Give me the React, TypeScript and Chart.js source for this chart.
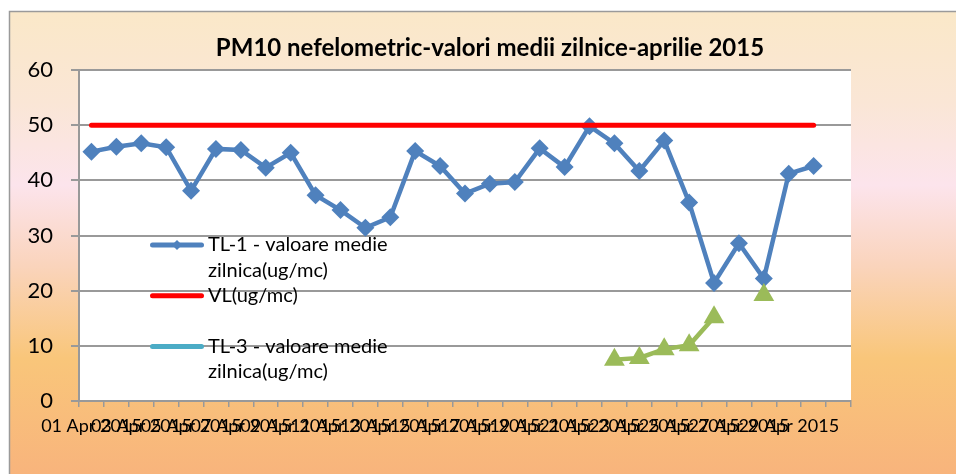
import React, { useEffect, useRef } from 'react';
import { Chart, registerables } from 'chart.js';

Chart.register(...registerables);

const TITLE = 'PM10 nefelometric-valori medii zilnice-aprilie 2015';

const CATEGORIES = [
  '01 Apr 2015', '02 Apr 2015', '03 Apr 2015', '04 Apr 2015', '05 Apr 2015',
  '06 Apr 2015', '07 Apr 2015', '08 Apr 2015', '09 Apr 2015', '10 Apr 2015',
  '11 Apr 2015', '12 Apr 2015', '13 Apr 2015', '14 Apr 2015', '15 Apr 2015',
  '16 Apr 2015', '17 Apr 2015', '18 Apr 2015', '19 Apr 2015', '20 Apr 2015',
  '21 Apr 2015', '22 Apr 2015', '23 Apr 2015', '24 Apr 2015', '25 Apr 2015',
  '26 Apr 2015', '27 Apr 2015', '28 Apr 2015', '29 Apr 2015', '30 Apr 2015',
  '',
];

const TL1_VALUES = [
  45.2, 46.1, 46.7, 46.0, 38.1, 45.7, 45.5, 42.3, 45.0, 37.3,
  34.6, 31.4, 33.3, 45.3, 42.6, 37.6, 39.4, 39.7, 45.8, 42.4,
  49.8, 46.7, 41.7, 47.2, 36.0, 21.4, 28.6, 22.2, 41.2, 42.6,
];

const VL_VALUES = [
  50, 50, 50, 50, 50, 50, 50, 50, 50, 50,
  50, 50, 50, 50, 50, 50, 50, 50, 50, 50,
  50, 50, 50, 50, 50, 50, 50, 50, 50, 50,
];

const TL3_VALUES: (number | null)[] = [
  null, null, null, null, null, null, null, null, null, null,
  null, null, null, null, null, null, null, null, null, null,
  null, null, null, null, null, null, null, null, null, null,
];

const TL2_VALUES: (number | null)[] = [
  null, null, null, null, null, null, null, null, null, null,
  null, null, null, null, null, null, null, null, null, null,
  null, 7.5, 7.8, 9.4, 10.1, 15.2, null, 19.2, null, null,
];

const Y_TICKS = { min: 0, max: 60, step: 10 };

const FONT = 'Lato';

const bgPlugin = {
  id: 'bgPlugin',
  beforeDraw(chart: any) {
    const { ctx, width, height, chartArea } = chart;
    ctx.save();
    ctx.fillStyle = '#ffffff';
    ctx.fillRect(0, 0, width, height);
    const g = ctx.createLinearGradient(0, 11, 0, height);
    g.addColorStop(0, '#FAE8C8');
    g.addColorStop(0.2, '#FAE6D6');
    g.addColorStop(0.376, '#FCE4EC');
    g.addColorStop(0.55, '#FAD4BC');
    g.addColorStop(0.75, '#F9C67A');
    g.addColorStop(1, '#F8B47C');
    ctx.fillStyle = g;
    ctx.fillRect(9, 11, width, height);
    ctx.strokeStyle = '#9A9A9A';
    ctx.lineWidth = 1.5;
    ctx.strokeRect(9.5, 11.5, width + 10, height + 10);
    ctx.fillStyle = '#ffffff';
    ctx.fillRect(chartArea.left, chartArea.top, chartArea.right - chartArea.left, chartArea.bottom - chartArea.top);
    ctx.restore();
  },
};

function wrapText(ctx: CanvasRenderingContext2D, text: string, maxWidth: number): string[] {
  const words = text.split(' ');
  const lines: string[] = [];
  let cur = '';
  for (const w of words) {
    const test = cur ? cur + ' ' + w : w;
    if (cur && ctx.measureText(test).width > maxWidth) {
      lines.push(cur);
      cur = w;
    } else {
      cur = test;
    }
  }
  if (cur) lines.push(cur);
  return lines;
}

const insideLegend = {
  id: 'insideLegend',
  afterDraw(chart: any) {
    const { ctx, chartArea } = chart;
    ctx.save();
    ctx.font = `20px ${FONT}`;
    ctx.fillStyle = '#000';
    ctx.textBaseline = 'middle';
    ctx.textAlign = 'left';
    const x0 = chartArea.left + 71;
    const x1 = chartArea.left + 125;
    const tx = chartArea.left + 129;
    const y0 = chartArea.top + 175;
    const lh = 25.4;
    let slot = 0;
    chart.data.datasets.forEach((ds: any) => {
      if (ds.hideInLegend) return;
      const y = y0 + slot * lh;
      ctx.strokeStyle = ds.borderColor;
      ctx.lineWidth = 5;
      ctx.lineCap = 'round';
      ctx.beginPath();
      ctx.moveTo(x0 + 2.5, y);
      ctx.lineTo(x1 - 2.5, y);
      ctx.stroke();
      if (ds.pointRadius > 0) {
        const cx = (x0 + x1) / 2;
        const r = 5;
        ctx.fillStyle = ds.borderColor;
        ctx.beginPath();
        ctx.moveTo(cx, y - r);
        ctx.lineTo(cx + r, y);
        ctx.lineTo(cx, y + r);
        ctx.lineTo(cx - r, y);
        ctx.closePath();
        ctx.fill();
      }
      ctx.fillStyle = '#000';
      const lines = wrapText(ctx, ds.label, 185);
      lines.forEach((t, k) => ctx.fillText(t, tx, y + k * lh));
      slot += 2;
    });
    ctx.restore();
  },
};

export default function App() {
  const ref = useRef<HTMLCanvasElement | null>(null);

  useEffect(() => {
    if (!ref.current) return;
    const chart = new Chart(ref.current, {
      type: 'line',
      data: {
        labels: CATEGORIES,
        datasets: [
          {
            label: 'TL-1 - valoare medie zilnica(ug/mc)',
            data: TL1_VALUES,
            borderColor: '#4F81BD',
            backgroundColor: '#4F81BD',
            borderWidth: 4.5,
            pointStyle: 'rectRot',
            pointRadius: 9,
            pointBorderWidth: 0,
            pointBackgroundColor: '#4F81BD',
            tension: 0,
            order: 3,
          } as any,
          {
            label: 'VL(ug/mc)',
            data: VL_VALUES,
            borderColor: '#FF0000',
            backgroundColor: '#FF0000',
            borderWidth: 5,
            borderCapStyle: 'round',
            pointRadius: 0,
            tension: 0,
            order: 2,
          },
          {
            label: 'TL-3 - valoare medie zilnica(ug/mc)',
            data: TL3_VALUES,
            borderColor: '#4BACC6',
            backgroundColor: '#4BACC6',
            borderWidth: 5,
            pointRadius: 0,
            order: 1,
          },
          {
            label: 'TL-2 - valoare medie zilnica(ug/mc)',
            data: TL2_VALUES,
            borderColor: '#9BBB59',
            backgroundColor: '#9BBB59',
            borderWidth: 4.5,
            pointStyle: 'triangle',
            pointRadius: 12,
            pointBorderWidth: 0,
            pointBackgroundColor: '#9BBB59',
            spanGaps: false,
            tension: 0,
            order: 0,
            hideInLegend: true,
          } as any,
        ],
      },
      options: {
        responsive: false,
        animation: false,
        events: [],
        layout: { padding: { left: 24, right: 0, top: 0, bottom: 0 } },
        plugins: {
          legend: { display: false },
          tooltip: { enabled: false },
          title: {
            display: true,
            text: TITLE,
            color: '#000',
            font: { family: FONT, size: 24, weight: 'bold', lineHeight: 1.2 },
            padding: { top: 33.6, bottom: 7.6 },
          },
        },
        scales: {
          x: {
            type: 'category',
            offset: true,
            grid: {
              offset: true,
              drawOnChartArea: false,
              drawTicks: true,
              tickLength: 6,
              color: '#999',
              lineWidth: 1.5,
            },
            border: { color: '#999', width: 2 },
            ticks: {
              autoSkip: false,
              maxRotation: 0,
              minRotation: 0,
              color: '#000',
              font: { family: FONT, size: 18 },
              padding: 8,
              callback: (_v: any, i: number) => (i % 2 === 0 ? CATEGORIES[i] : ''),
            },
            afterFit: (s: any) => {
              s.height = 73;
            },
          },
          y: {
            type: 'linear',
            min: Y_TICKS.min,
            max: Y_TICKS.max,
            ticks: {
              stepSize: Y_TICKS.step,
              color: '#000',
              font: { family: FONT, size: 22 },
              padding: 18,
            },
            grid: { color: '#999', lineWidth: 2, tickLength: 8 },
            border: { color: '#999', width: 2 },
            afterFit: (s: any) => {
              s.width = 55;
            },
          },
          yR: {
            type: 'linear',
            position: 'right',
            display: true,
            grid: { display: false },
            ticks: { display: false },
            border: { display: false },
            afterFit: (s: any) => {
              s.width = 105;
            },
          },
        },
      },
      plugins: [bgPlugin, insideLegend],
    });
    return () => chart.destroy();
  }, []);

  return (
    <div style={{ position: 'fixed', left: 0, top: 0, width: 956, height: 474 }}>
      <canvas ref={ref} width={956} height={474} style={{ display: 'block' }} />
    </div>
  );
}
